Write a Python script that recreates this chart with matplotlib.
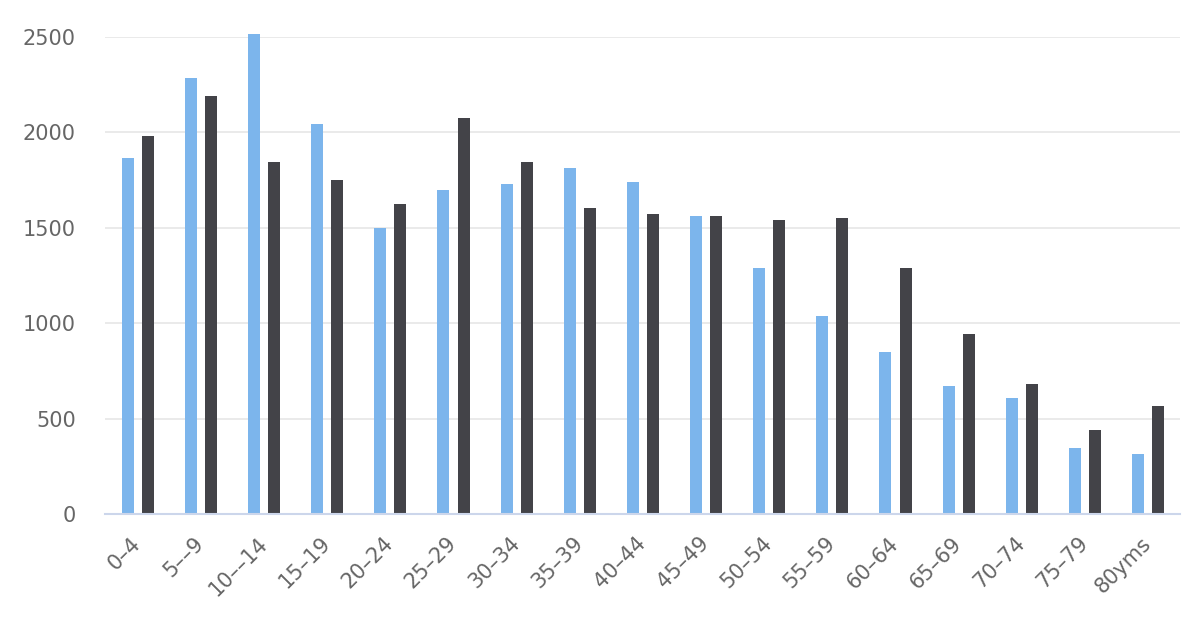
import matplotlib.pyplot as plt
import numpy as np

grupos = ["0–4", "5––9", "10––14", "15–19", "20–24", "25–29", "30–34", "35–39",
          "40–44", "45–49", "50–54", "55–59", "60–64", "65–69", "70–74", "75–79", "80yms"]
serie_a = [1866, 2285, 2516, 2044, 1499, 1698, 1730, 1813, 1740, 1562,
           1289, 1038, 849, 671, 608, 346, 314]
serie_b = [1981, 2191, 1845, 1750, 1625, 2075, 1845, 1604, 1572, 1562,
           1541, 1551, 1289, 943, 681, 440, 566]

fig = plt.figure(figsize=(12, 6.4), dpi=100)
ax = fig.add_axes([0.0875, 0.197, 0.8955, 0.745])

x = np.arange(len(grupos))
ancho = 0.19
ax.bar(x - 0.16, serie_a, ancho, color="#7cb5ec", clip_on=False, zorder=3)
ax.bar(x + 0.16, serie_b, ancho, color="#434348", clip_on=False, zorder=3)

ax.set_xlim(-0.52, len(grupos) - 0.5)
ax.set_ylim(0, 2500)
ax.set_yticks([0, 500, 1000, 1500, 2000, 2500])
ax.grid(axis="y", color="#e6e6e6", linewidth=1.2, zorder=0)

for lado in ["top", "right", "left"]:
    ax.spines[lado].set_visible(False)
ax.spines["bottom"].set_color("#ccd6eb")
ax.spines["bottom"].set_linewidth(1.5)
ax.spines["bottom"].set_zorder(4)

ax.tick_params(axis="y", length=0, pad=21, labelsize=15, labelcolor="#666666")
ax.tick_params(axis="x", length=0, pad=19, labelsize=15, labelcolor="#666666")
ax.set_xticks(x)
ax.set_xticklabels(grupos, rotation=45, ha="right", va="center", rotation_mode="anchor")

fig.savefig("out.png", dpi=100)
